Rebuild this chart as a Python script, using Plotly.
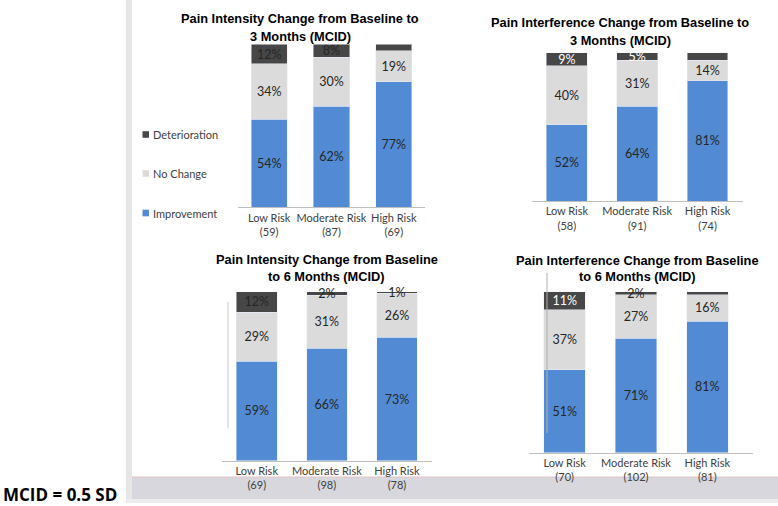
import plotly.graph_objects as go

W, H = 778, 506

# ---------------- data ----------------
categories = ["Low Risk", "Moderate Risk", "High Risk"]
series_names = ["Improvement", "No Change", "Deterioration"]

chart_titles = [
    ["Pain Intensity Change from Baseline to", "3 Months (MCID)"],
    ["Pain Interference Change from Baseline to", "3 Months (MCID)"],
    ["Pain Intensity Change from Baseline", "to 6 Months (MCID)"],
    ["Pain Interference Change from Baseline", "to 6 Months (MCID)"],
]

n_pi_3m = [59, 87, 69]
improve_pi_3m = [54, 62, 77]
nochange_pi_3m = [34, 30, 19]
deter_pi_3m = [12, 8, 4]
deter_label_pi_3m = ["12%", "8%", ""]

n_pint_3m = [58, 91, 74]
improve_pint_3m = [52, 64, 81]
nochange_pint_3m = [40, 31, 14]
deter_pint_3m = [9, 5, 5]
deter_label_pint_3m = ["9%", "5%", ""]

n_pi_6m = [69, 98, 78]
improve_pi_6m = [59, 66, 73]
nochange_pi_6m = [29, 31, 26]
deter_pi_6m = [12, 2, 1]
deter_label_pi_6m = ["12%", "2%", "1%"]

n_pint_6m = [70, 102, 81]
improve_pint_6m = [51, 71, 81]
nochange_pint_6m = [37, 27, 16]
deter_pint_6m = [11, 2, 2]
deter_label_pint_6m = ["11%", "2%", ""]

footnote = "MCID = 0.5 SD"

charts = [
    (n_pi_3m, improve_pi_3m, nochange_pi_3m, deter_pi_3m, deter_label_pi_3m),
    (n_pint_3m, improve_pint_3m, nochange_pint_3m, deter_pint_3m, deter_label_pint_3m),
    (n_pi_6m, improve_pi_6m, nochange_pi_6m, deter_pi_6m, deter_label_pi_6m),
    (n_pint_6m, improve_pint_6m, nochange_pint_6m, deter_pint_6m, deter_label_pint_6m),
]

# ---------------- style ----------------
COL_IMP = "#528bd4"
COL_NOC = "#dbdbdb"
COL_DET = "#474747"
TXT = "#262626"
BODY = "Lato, Liberation Sans, sans-serif"
ARIAL = "Liberation Sans, Arial, sans-serif"


def px(x):
    return x / W


def py(y):
    return 1 - y / H


# pixel layouts: (x_left, x_right, y_top(100%), y_base, x_range_max)
boxes = [
    (238, 425, 44.3, 207.3, 2.5),
    (531.7, 742.7, 52.7, 201, 2.5),
    (221.7, 432, 291.7, 460.7, 2.5),
    (529, 752.7, 291.7, 452.7, 2.636),
]
title_pos = [(300, 18, 36), (620, 22.5, 41), (326.5, 259, 276.5), (637, 260.5, 276.5)]
det_text_colors = [
    ["#262626", "#262626", "#262626"],
    ["#ffffff", "#ffffff", "#262626"],
    ["#262626", "#262626", "#262626"],
    ["#ffffff", "#262626", "#262626"],
]

fig = go.Figure()
annotations = []
shapes = []

common = dict(textposition="inside", insidetextanchor="middle", textangle=0,
              constraintext="none", hoverinfo="skip", cliponaxis=False, showlegend=False)
LABEL_SIZE = 12.5

for i, (n, imp, noc, det, det_lbl) in enumerate(charts):
    k = "" if i == 0 else str(i + 1)
    xa, ya = "x" + k, "y" + k
    fig.add_trace(go.Bar(
        x=categories, y=imp, name=series_names[0], marker_color=COL_IMP,
        text=[f"{v}%" for v in imp],
        insidetextfont=dict(color=TXT, size=LABEL_SIZE, family=BODY),
        xaxis=xa, yaxis=ya, **common))
    fig.add_trace(go.Bar(
        x=categories, y=noc, name=series_names[1], marker_color=COL_NOC,
        text=[f"{v}%" for v in noc],
        insidetextfont=dict(color=TXT, size=LABEL_SIZE, family=BODY),
        xaxis=xa, yaxis=ya, **common))
    fig.add_trace(go.Bar(
        x=categories, y=det, name=series_names[2], marker_color=COL_DET,
        text=det_lbl,
        insidetextfont=dict(color=det_text_colors[i], size=LABEL_SIZE, family=BODY),
        xaxis=xa, yaxis=ya, **common))

    xl, xr, yt, yb, rmax = boxes[i]
    fig.update_layout(**{
        "xaxis" + k: dict(
            domain=[px(xl), px(xr)], anchor=ya, range=[-0.5, rmax],
            showline=True, linecolor="#bfbfbf", linewidth=1, ticks="",
            showgrid=False, zeroline=False, fixedrange=True, tickangle=0,
            tickmode="array", tickvals=categories,
            ticktext=[f"{c}<br>({m})" for c, m in zip(categories, n)],
            tickfont=dict(family=BODY, size=11, color="#404040")),
        "yaxis" + k: dict(
            domain=[py(yb), py(yt)], anchor=xa, range=[0, 100.02], visible=False,
            fixedrange=True),
    })

    cx, y1, y2 = title_pos[i]
    for line, yy in zip(chart_titles[i], (y1, y2)):
        annotations.append(dict(
            text=f"<b>{line}</b>", xref="paper", yref="paper", x=px(cx), y=py(yy),
            xanchor="center", yanchor="middle", showarrow=False,
            font=dict(family=ARIAL, size=12.8, color="#000000")))

# legend (manual, beside first chart)
legend_y = {"Deterioration": 134.5, "No Change": 173.5, "Improvement": 213}
legend_col = {"Deterioration": COL_DET, "No Change": COL_NOC, "Improvement": COL_IMP}
for name in series_names:
    yy = legend_y[name]
    shapes.append(dict(type="rect", xref="paper", yref="paper",
                       x0=px(142.5), x1=px(149), y0=py(yy + 3.3), y1=py(yy - 3.3),
                       fillcolor=legend_col[name], line=dict(width=0)))
    annotations.append(dict(text=name, xref="paper", yref="paper", x=px(150.5), y=py(yy),
                            xanchor="left", yanchor="middle", showarrow=False,
                            font=dict(family=BODY, size=11, color="#404040")))

# footnote
annotations.append(dict(text=f"<b>{footnote}</b>", xref="paper", yref="paper",
                        x=px(119), y=py(494), xanchor="right", yanchor="middle",
                        showarrow=False,
                        font=dict(family="Open Sans, Liberation Sans, sans-serif", size=17,
                                  color="#000000")))

# slide frame decorations
shapes += [
    dict(type="rect", xref="paper", yref="paper", x0=px(126), x1=px(132), y0=py(503), y1=py(0),
         fillcolor="#e6e6e6", line=dict(width=0), layer="below"),
    dict(type="rect", xref="paper", yref="paper", x0=px(126), x1=px(778), y0=py(503), y1=py(499),
         fillcolor="#ececec", line=dict(width=0), layer="below"),
    dict(type="rect", xref="paper", yref="paper", x0=px(132), x1=px(778), y0=py(499), y1=py(477),
         fillcolor="#d7d7dd", line=dict(width=0), layer="below"),
    dict(type="line", xref="paper", yref="paper", x0=px(132), x1=px(778), y0=py(477), y1=py(477),
         line=dict(color="#e6c3c6", width=1), layer="below"),
    dict(type="line", xref="paper", yref="paper", x0=px(228), x1=px(228), y0=py(428), y1=py(302),
         line=dict(color="#c8c8c8", width=1)),
    dict(type="line", xref="paper", yref="paper", x0=px(547), x1=px(547), y0=py(433), y1=py(273),
         line=dict(color="#b0b0b0", width=1)),
]

fig.update_layout(
    width=W, height=H, autosize=False,
    margin=dict(l=0, r=0, t=0, b=0),
    barmode="stack", barnorm="percent", bargap=0.42,
    paper_bgcolor="white", plot_bgcolor="rgba(0,0,0,0)",
    font=dict(family=BODY, size=LABEL_SIZE, color=TXT),
    annotations=annotations, shapes=shapes,
    showlegend=False,
)

fig.write_html("out.html", config={"displayModeBar": False},
               post_script="document.body.style.margin='0';document.body.style.overflow='hidden';")
